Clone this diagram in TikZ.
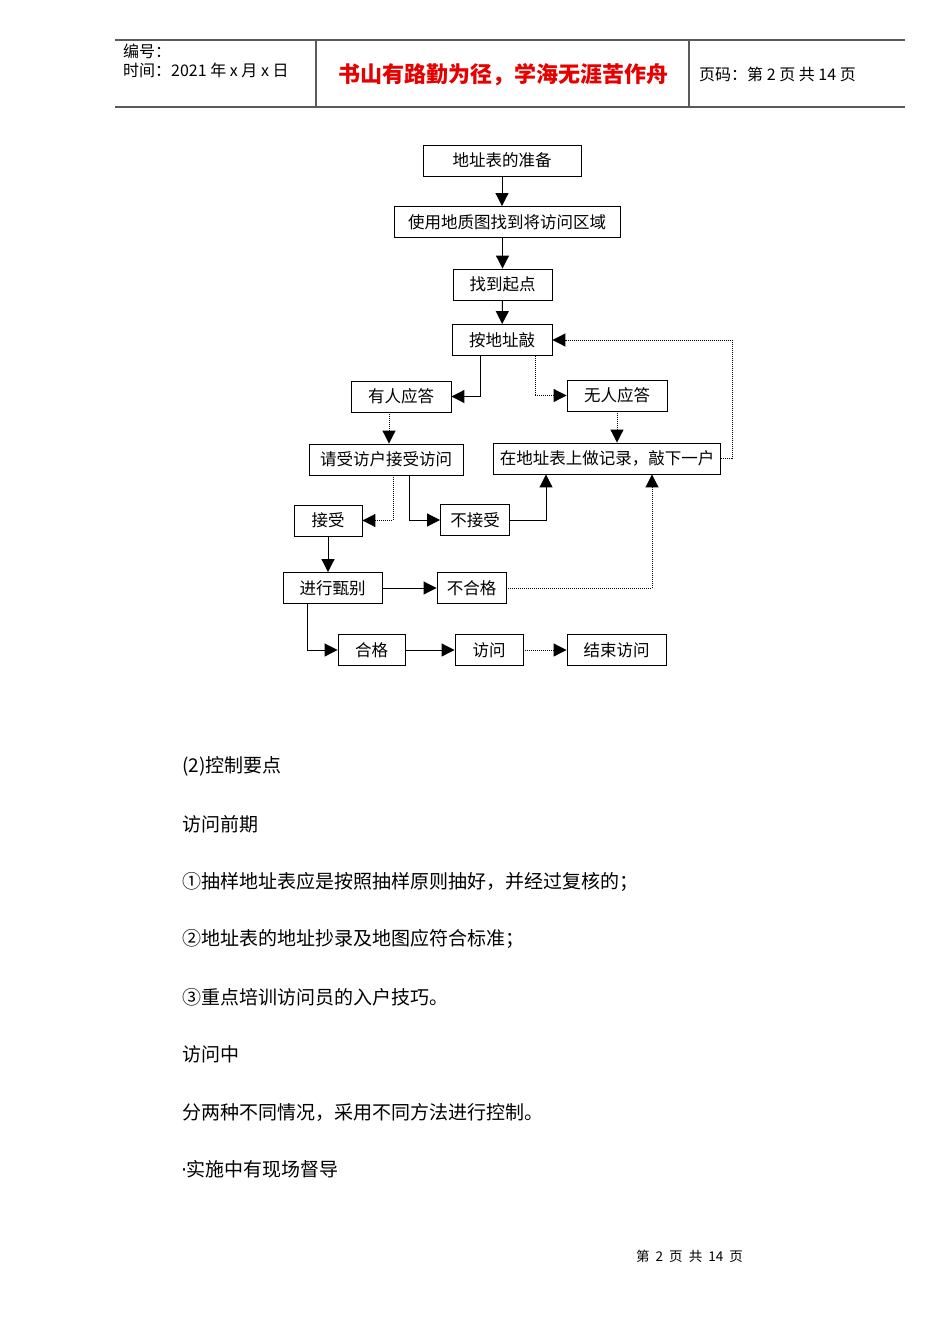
\documentclass[tikz,border=0pt]{standalone}
\usepackage{fontspec}
\setmainfont{Noto Sans CJK SC}
\newfontfamily\latinfont{DejaVu Sans}
\usetikzlibrary{arrows.meta,calc}
\definecolor{hdrline}{RGB}{90,90,90}
\definecolor{titlered}{RGB}{230,0,0}
\tikzset{
  fbox/.style={draw, line width=0.9pt, inner sep=0pt, minimum height=31pt,
    font=\fontsize{16.5}{18}\selectfont},
  conn/.style={line width=1pt, -{Triangle[length=13pt,width=13pt]}},
  dconn/.style={conn, dash pattern=on 1pt off 1pt},
  bodytext/.style={anchor=west, inner sep=0pt, font=\fontsize{19}{21}\selectfont},
  hdrtext/.style={anchor=west, inner sep=0pt, font=\fontsize{16}{18}\selectfont},
  hline/.style={line width=1.2pt, draw=hdrline}
}
\begin{document}
\begin{tikzpicture}[x=1pt,y=-1pt]
\useasboundingbox[fill=white] (0,0) rectangle (950,1344);

% header
\draw[hline] (115,40) -- (905,40);
\draw[hline] (115,107) -- (905,107);
\draw[hline] (316,40) -- (316,107);
\draw[hline] (689,40) -- (689,107);
\node[hdrtext] (hnum) at (123,51) {编号：};
\node[hdrtext] (htime) at (123,70) {时间：2021 年 x 月 x 日};
\node[inner sep=0pt, text=titlered, font=\bfseries\fontsize{22}{24}\selectfont] (htitle) at (503,75) {书山有路勤为径，学海无涯苦作舟};
\node[hdrtext] (hpage) at (699,74) {页码：第 2 页 共 14 页};

% flowchart nodes
\node[fbox, minimum width=158pt] (prep)  at (502,160.5) {地址表的准备};
\node[fbox, minimum width=226pt] (map)   at (507,222)   {使用地质图找到将访问区域};
\node[fbox, minimum width=99pt]  (start) at (502.5,284.5) {找到起点};
\node[fbox, minimum width=100pt] (knock) at (502,340)   {按地址敲};
\node[fbox, minimum width=100pt] (yes)   at (401,396.5) {有人应答};
\node[fbox, minimum width=100pt] (no)    at (617,395.5) {无人应答};
\node[fbox, minimum width=154pt] (ask)   at (386,459.5) {请受访户接受访问};
\node[fbox, minimum width=227pt] (rec)   at (607,458.5) {在地址表上做记录，敲下一户};
\node[fbox, minimum width=68pt]  (acc)   at (328,520.5) {接受};
\node[fbox, minimum width=69pt]  (rej)   at (475,520)   {不接受};
\node[fbox, minimum width=99pt]  (scr)   at (332.5,588) {进行甄别};
\node[fbox, minimum width=69pt]  (fail)  at (471.5,588) {不合格};
\node[fbox, minimum width=67pt]  (pass)  at (371.5,650) {合格};
\node[fbox, minimum width=68pt]  (int)   at (489,650)   {访问};
\node[fbox, minimum width=99pt]  (end)   at (616.5,650) {结束访问};

% connectors
\draw[conn] (prep.south) -- (prep.south |- map.north);
\draw[conn] (start.north |- map.south) -- (start.north);
\draw[conn] (start) -- (knock);
\draw[conn] ([xshift=-22pt]knock.south) |- (yes.east);
\draw[dconn] ([xshift=33pt]knock.south) |- (no.west);
\draw[dconn] (no.south) -- (no.south |- rec.north);
\draw[dconn] (rec.east) -- ++(12,0) |- (knock.east);
\draw[dconn] ([xshift=-12pt]yes.south) -- ([xshift=-12pt]yes.south |- ask.north);
\draw[dconn] ([xshift=7pt]ask.south) |- (acc.east);
\draw[conn] ([xshift=23pt]ask.south) |- (rej.west);
\draw[conn] (rej.east) -| ([xshift=-61pt]rec.south);
\draw[conn] (acc.south) -- (acc.south |- scr.north);
\draw[conn] (scr.east) -- (fail.west);
\draw[dconn] (fail.east) -| ([xshift=45pt]rec.south);
\draw[conn] ([xshift=-25.5pt]scr.south) |- (pass.west);
\draw[conn] (pass) -- (int);
\draw[dconn] (int) -- (end);

% body text
\node[bodytext] (t1) at (182,766)  {(2)控制要点};
\node[bodytext] (t2) at (182,824)  {访问前期};
\node[bodytext] (t3) at (182,882)  {①抽样地址表应是按照抽样原则抽好，并经过复核的；};
\node[bodytext] (t4) at (182,939)  {②地址表的地址抄录及地图应符合标准；};
\node[bodytext] (t5) at (182,997)  {③重点培训访问员的入户技巧。};
\node[bodytext] (t6) at (182,1054) {访问中};
\node[bodytext] (t7) at (182,1112) {分两种不同情况，采用不同方法进行控制。};
\node[bodytext] (t8) at (182,1169) {{\latinfont\kern-1pt·\kern-1pt}实施中有现场督导};

% footer
\node[inner sep=0pt, font=\fontsize{13.5}{15}\selectfont] (foot) at (689.5,1256) {第\ \ 2\ \ 页\ \ 共\ \ 14\ \ 页};
\end{tikzpicture}
\end{document}
